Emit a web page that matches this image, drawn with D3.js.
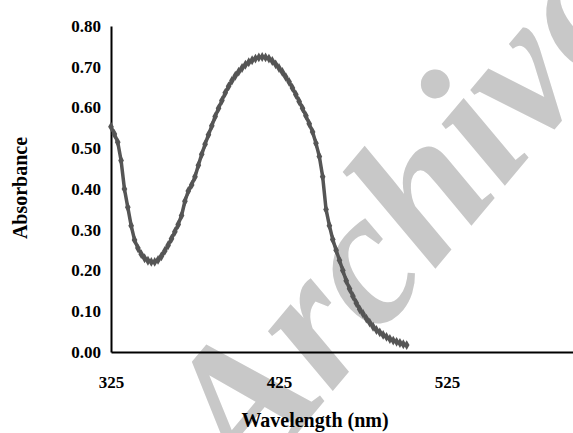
<!DOCTYPE html>
<html>
<head>
<meta charset="utf-8">
<script src="https://cdn.jsdelivr.net/npm/d3@7"></script>
<style>
  html, body { margin: 0; padding: 0; background: #fff; }
  svg { display: block; }
  text { font-family: "Liberation Serif", "Times New Roman", serif; font-weight: bold; }
</style>
</head>
<body>
<div id="chart"></div>
<script>
// ---- data ----
const wavelengths = [325,327,329,331,333,335,337,339,341,343,345,347,349,351,353,355,357,359,361,363,365,367,369,371,373,375,377,379,381,383,385,387,389,391,393,395,397,399,401,403,405,407,409,411,413,415,417,419,421,423,425,427,429,431,433,435,437,439,441,443,445,447,449,451,453,455,457,459,461,463,465,467,469,471,473,475,477,479,481,483,485,487,489,491,493,495,497,499,501];
const absorbance = [0.553,0.535,0.515,0.470,0.400,0.355,0.310,0.275,0.255,0.240,0.230,0.224,0.221,0.221,0.226,0.235,0.248,0.262,0.278,0.295,0.313,0.335,0.370,0.395,0.410,0.430,0.458,0.485,0.510,0.533,0.555,0.578,0.598,0.617,0.636,0.652,0.666,0.678,0.688,0.697,0.705,0.711,0.716,0.720,0.723,0.724,0.723,0.720,0.714,0.706,0.697,0.687,0.675,0.663,0.648,0.632,0.615,0.598,0.580,0.560,0.540,0.512,0.480,0.430,0.350,0.310,0.276,0.250,0.225,0.200,0.175,0.155,0.137,0.120,0.105,0.094,0.082,0.072,0.062,0.054,0.048,0.042,0.037,0.032,0.028,0.025,0.022,0.019,0.017];
const yTicks = [0,0.1,0.2,0.3,0.4,0.5,0.6,0.7,0.8];
const xTicks = [325,425,525];
const xTitle = "Wavelength (nm)";
const yTitle = "Absorbance";
const watermark = "Archive";

// ---- layout ----
const W = 573, H = 433;
const mLeft = 111, mRight = 573, mTop = 26, mBottom = 352;

const svg = d3.select("#chart").append("svg").attr("width", W).attr("height", H);

// watermark (behind)
svg.append("text")
  .attr("transform", "translate(248,492) rotate(-50)")
  .attr("font-size", 192)
  .attr("font-style", "italic")
  .attr("font-family", "'Liberation Serif', serif")
  .attr("fill", "#c8c8c8")
  .text(watermark);

const x = d3.scaleLinear().domain([325, 600]).range([mLeft, mRight]);
const y = d3.scaleLinear().domain([0, 0.8]).range([mBottom, mTop]);

// axes
const xAxis = svg.append("g").attr("transform", `translate(0,${mBottom})`)
  .call(d3.axisBottom(x).tickValues(xTicks).tickSize(0).tickSizeOuter(0).tickPadding(24).tickFormat(d3.format("d")));
const yAxis = svg.append("g").attr("transform", `translate(${mLeft},0)`)
  .call(d3.axisLeft(y).tickValues(yTicks).tickSize(0).tickSizeOuter(0).tickPadding(10).tickFormat(d3.format(".2f")));

[xAxis, yAxis].forEach(g => {
  g.select(".domain").attr("stroke", "#000").attr("stroke-width", 2);
  g.selectAll("text").attr("font-size", 17).attr("fill", "#000")
    .attr("font-family", "'Liberation Serif', 'Times New Roman', serif").attr("font-weight", "bold");
});

// line
const pts = wavelengths.map((w, i) => [w, absorbance[i]]);
svg.append("path")
  .datum(pts)
  .attr("fill", "none")
  .attr("stroke", "#555")
  .attr("stroke-width", 3.5)
  .attr("stroke-linejoin", "round")
  .attr("d", d3.line().x(d => x(d[0])).y(d => y(d[1])));

svg.append("g").selectAll("path")
  .data(pts)
  .join("path")
  .attr("transform", d => `translate(${x(d[0])},${y(d[1])})`)
  .attr("d", d3.symbol().type(d3.symbolDiamond).size(28))
  .attr("fill", "#555");

// titles
svg.append("text")
  .attr("x", 315).attr("y", 427)
  .attr("text-anchor", "middle")
  .attr("font-size", 20)
  .text(xTitle);

svg.append("text")
  .attr("transform", "translate(27,188) rotate(-90)")
  .attr("text-anchor", "middle")
  .attr("font-size", 20)
  .text(yTitle);
</script>
</body>
</html>
